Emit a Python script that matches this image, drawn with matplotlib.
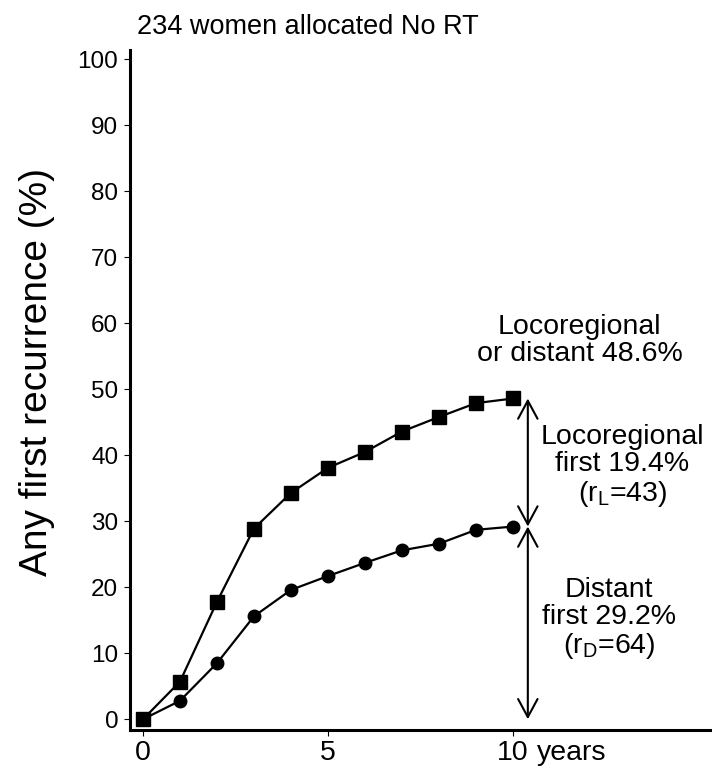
import matplotlib
matplotlib.use("Agg")
import matplotlib.pyplot as plt

plt.rcParams['font.family'] = ['Liberation Sans', 'DejaVu Sans']
plt.rcParams['mathtext.fontset'] = 'custom'
plt.rcParams['mathtext.rm'] = 'Liberation Sans'
plt.rcParams['mathtext.it'] = 'Liberation Sans'

# cumulative risk of any first recurrence, by year since randomisation
years = [0, 1, 2, 3, 4, 5, 6, 7, 8, 9, 10]
any_first = [0, 5.7, 17.8, 28.9, 34.3, 38.1, 40.5, 43.6, 45.8, 47.9, 48.6]
distant_first = [0, 2.8, 8.5, 15.6, 19.6, 21.7, 23.7, 25.6, 26.6, 28.7, 29.2]
n_loco = 43
n_dist = 64
x_ticks = [0, 5, 10]
y_ticks = list(range(0, 101, 10))

any_end = any_first[-1]
dist_end = distant_first[-1]
loco_end = round(any_end - dist_end, 1)

fig = plt.figure(figsize=(7.12, 7.67), dpi=100)
ax = fig.add_axes([0.1826, 0.0476, 0.816, 0.8872])

ax.plot(years, distant_first, color='black', lw=1.6, marker='o', ms=9, zorder=3)
ax.plot(years, any_first, color='black', lw=1.6, marker='s', ms=9.5, zorder=4)

ax.set_xlim(-0.35, 15.35)
ax.set_ylim(-1.7, 101.4)
ax.set_xticks(x_ticks)
ax.set_yticks(y_ticks)
ax.tick_params(length=4.5, width=0.8)
ax.tick_params(axis='x', labelsize=20.5, pad=2)
ax.tick_params(axis='y', labelsize=17.5, pad=4)
for side in ('top', 'right'):
    ax.spines[side].set_visible(False)
for side in ('left', 'bottom'):
    ax.spines[side].set_linewidth(2.2)

ax.annotate('years', xy=(10, 0), xycoords=('data', 'axes fraction'),
            xytext=(17, -6.5), textcoords='offset points',
            ha='left', va='top', fontsize=20.5)

# double-headed arrows splitting the total into distant and locoregional parts
arrow_x = 10.4
astyle = '<->,head_length=1.3,head_width=0.7'
for lo, hi in [(0, dist_end), (dist_end, any_end)]:
    ax.annotate('', xy=(arrow_x, hi), xytext=(arrow_x, lo),
                arrowprops=dict(arrowstyle=astyle, mutation_scale=10,
                                lw=1.5, color='black', shrinkA=0, shrinkB=0))

ax.text(11.8, 57.4, f'Locoregional\nor distant {any_end}%', ha='center',
        va='center', fontsize=20.5, linespacing=1.05)
ax.text(12.95, 38.3, f'Locoregional\nfirst {loco_end}%\n' + r'(r$_{\mathrm{L}}$=' + f'{n_loco})',
        ha='center', va='center', fontsize=20.5, linespacing=1.05)
ax.text(12.6, 15.2, f'Distant\nfirst {dist_end}%\n' + r'(r$_{\mathrm{D}}$=' + f'{n_dist})',
        ha='center', va='center', fontsize=20.5, linespacing=1.05)

fig.text(0.433, 0.965, '234 women allocated No RT', ha='center', va='center', fontsize=19.5)
fig.text(0.052, 0.515, 'Any first recurrence (%)', rotation=90, ha='center',
         va='center', fontsize=28)

fig.savefig('out.png', dpi=100)
